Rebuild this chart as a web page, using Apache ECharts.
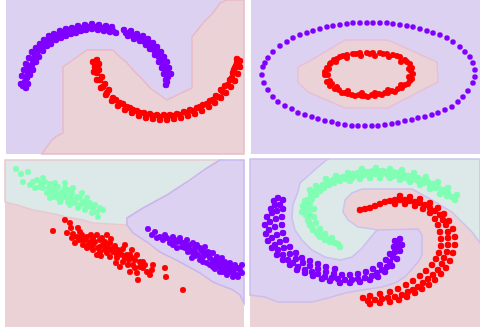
<!DOCTYPE html>
<html>
<head>
<meta charset="utf-8">
<script src="https://cdn.jsdelivr.net/npm/echarts@6/dist/echarts.min.js"></script>
<style>
  html, body { margin: 0; padding: 0; background: #fff; }
  #chart { width: 480px; height: 330px; }
</style>
</head>
<body>
<div id="chart"></div>
<script>
// panel 1 - two moons (units: panel-local, y grows downward)
const moonsPurple = [[17,86],[20,88],[19,82],[21,78],[22,73],[23,68],[26,65],[27,60],[29,55],[31,53],[33,50],[36,47],[39,43],[42,41],[46,38],[49,37],[52,35],[56,33],[59,33],[62,32],[66,31],[69,30],[72,29],[76,28],[79,28],[82,27],[86,26],[89,27],[92,28],[96,28],[99,29],[102,30],[107,31],[110,33],[120,33],[124,34],[127,36],[131,37],[136,39],[139,42],[142,43],[146,47],[148,50],[151,53],[153,57],[156,61],[157,65],[159,68],[161,73],[162,77],[161,82],[160,85],
  [22,84],[24,75],[27,70],[30,62],[33,57],[37,51],[41,46],[45,44],[50,40],[55,38],[60,36],[65,34],[70,33],[75,31],[80,30],[86,29],[92,30],[98,31],[104,32],[122,36],[128,39],[134,41],[140,45],[144,49],[149,55],[153,62],[156,68],[158,74],[160,80],
  [15,84],[16,76],[18,70],[20,64],[23,58],[26,52],[30,48],[34,44],[38,40],[43,36],[48,34],[54,31],[60,29],[66,28],[72,26],[79,25],[86,24],[93,25],[100,26],[106,27],[118,30],[125,31],[131,34],[137,36],[142,39],[147,43],[151,47],[155,52],[158,57],[161,62],[163,68],[165,74]];
const moonsRed = [[91,60],[89,67],[91,73],[94,80],[97,87],[101,93],[107,98],[114,103],[121,107],[127,110],[134,113],[141,115],[147,116],[154,117],[161,117],[167,116],[174,115],[181,113],[187,111],[194,107],[201,104],[207,100],[212,97],[217,92],[222,85],[226,78],[227,73],[229,68],[231,63],[231,59],
  [93,64],[93,70],[96,77],[99,84],[103,90],[110,100],[117,104],[124,108],[131,111],[138,113],[144,114],[151,115],[158,115],[164,115],[171,114],[178,112],[184,110],[191,108],[197,105],[204,101],[210,96],[215,90],[219,86],[224,80],[228,70],[230,66],
  [87,62],[88,72],[91,80],[95,88],[100,95],[106,101],[112,106],[119,110],[126,113],[133,116],[140,118],[147,119],[154,120],[161,120],[168,119],[175,118],[182,116],[189,114],[196,111],[203,107],[209,103],[215,98],[220,93],[225,87],[229,81],[232,74],[234,67],[234,61]];
const moonsRedRegion = [[36,154],[40,148],[46,140],[51,136],[57,133],[57,67],[64,62],[71,57],[81,50],[107,50],[114,57],[121,63],[129,72],[137,80],[144,88],[161,100],[186,88],[186,37],[197,23],[207,13],[214,3],[221,0],[238,0],[238,154]];

// panel 2 - circles
const circlesOuter = [[12,67],[11,75],[13,83],[17,90],[22,97],[27,102],[34,106],[41,109],[47,113],[54,115],[61,117],[67,119],[74,121],[81,122],[87,124],[94,125],[101,126],[107,126],[114,126],[121,126],[127,126],[134,125],[141,124],[147,123],[154,121],[161,120],[167,118],[174,117],[181,115],[187,113],[194,110],[201,107],[207,102],[212,97],[217,91],[222,83],[224,77],[224,70],[222,63],[219,57],[214,52],[209,47],[202,42],[196,38],[189,35],[182,33],[176,31],[169,29],[162,27],[156,26],[149,25],[142,24],[136,23],[129,23],[122,23],[116,23],[109,23],[102,23],[96,24],[89,25],[82,26],[76,27],[69,29],[62,31],[56,33],[49,35],[42,38],[36,42],[29,46],[22,52],[17,58],[14,63]];
const circlesInner = [[74,75],[76,82],[79,86],[84,89],[91,93],[97,94],[104,96],[111,96],[117,97],[124,96],[131,95],[137,93],[144,92],[151,88],[157,84],[161,79],[162,74],[161,68],[159,64],[154,60],[149,57],[142,55],[136,54],[129,53],[122,53],[116,53],[109,53],[102,54],[96,55],[89,57],[83,60],[79,64],[76,68],[74,72],
  [77,75],[79,81],[86,87],[97,91],[111,93],[124,93],[137,90],[150,85],[158,77],[158,69],[150,62],[138,57],[124,56],[110,56],[96,58],[85,62],[78,69],
  [81,84],[88,90],[94,93],[101,95],[108,95],[114,96],[121,95],[128,94],[134,93],[141,91],[147,89],[154,85],[159,81],[160,71],[156,62],[146,56],[132,54],[119,54],[105,54],[92,56],[86,59],[80,63]];
const circlesRedRegion = [[94,40],[137,40],[186,62],[187,82],[137,108],[94,108],[57,92],[47,82],[47,67],[57,62]];

// panel 3 - blobs
const blobsGreen = [[11,9],[23,12],[18,22],[25,25],[32,20],[38,18],[30,28],[38,28],[45,24],[50,23],[53,27],[47,32],[52,33],[57,32],[60,28],[63,30],[67,33],[58,37],[62,38],[67,40],[72,37],[75,38],[78,42],[70,43],[75,45],[82,47],[85,43],[88,48],[92,52],[95,48],[98,50],[93,57],[87,53],[80,50],[73,48],[65,45],[55,42],[48,37],[42,33],[35,27],[45,38],[53,38],[82,38],[77,33],[68,28],[60,23],[50,28],
  [40,22],[44,28],[50,32],[55,35],[60,34],[65,36],[70,40],[80,44],[85,46],[90,45],[63,42],[57,38],[47,30],[36,23],[28,22],[16,14]];
const blobsRed = [[48,71],[60,60],[65,63],[73,68],[62,73],[72,77],[70,83],[77,80],[82,77],[85,82],[88,78],[92,75],[95,80],[102,75],[98,85],[105,83],[108,88],[82,88],[88,90],[95,92],[102,93],[112,95],[115,92],[120,85],[122,95],[127,90],[132,95],[135,102],[128,105],[125,112],[132,113],[138,108],[142,112],[147,110],[148,105],[133,120],[160,108],[161,117],[178,130],[112,98],[105,97],[118,102],[123,105],[95,87],[83,85],[77,75],[92,95],[108,92],[138,102],[127,98],[115,107],[102,87],[88,85],
  [66,68],[68,74],[75,72],[78,85],[80,80],[86,75],[90,82],[93,88],[97,78],[100,82],[104,89],[106,79],[110,86],[113,90],[117,95],[120,98],[124,100],[118,89],[125,95],[130,100],[135,107],[140,105],[145,115],[100,90],[96,96],[85,87],[74,80],[67,78],[111,103],[130,108]];
const blobsPurple = [[143,69],[147,75],[155,77],[158,80],[165,80],[168,77],[172,82],[175,78],[178,83],[182,80],[185,85],[188,83],[192,85],[195,88],[198,92],[202,95],[205,98],[208,102],[212,105],[215,107],[218,108],[222,110],[225,112],[228,113],[232,115],[233,108],[230,105],[225,103],[220,102],[217,98],[212,97],[208,93],[203,92],[198,97],[193,95],[188,93],[183,92],[180,88],[177,87],[172,88],[168,85],[165,83],[195,100],[202,103],[208,107],[215,112],[222,115],[228,117],[233,117],[190,88],[187,98],[200,87],[213,100],[227,108],[237,113],[237,105],
  [150,72],[160,75],[170,80],[176,82],[180,84],[185,90],[190,92],[196,90],[200,93],[205,93],[210,100],[215,103],[220,105],[224,107],[229,110],[235,110],[218,112],[210,109],[205,105],[198,102],[190,96],[183,88],[162,78],[152,78]];
const blobsGreenRegion = [[0,0],[215,0],[202,8],[182,22],[162,35],[138,48],[122,58],[122,65],[88,63],[78,60],[62,57],[45,53],[28,50],[12,45],[0,42]];
const blobsPurpleRegion = [[215,0],[239,0],[239,143],[235,135],[228,130],[208,122],[195,113],[175,102],[155,92],[142,82],[128,73],[122,65],[122,58],[138,48],[162,35],[182,22],[202,8]];

// panel 4 - spirals
const spiralGreen = [[90,88],[85,84],[80,83],[75,81],[70,78],[67,74],[63,71],[60,66],[58,61],[56,56],[55,51],[56,46],[58,41],[61,36],[65,33],[69,29],[73,26],[78,23],[83,21],[88,19],[93,18],[98,17],[103,15],[108,14],[113,13],[118,13],[123,12],[128,12],[133,12],[138,13],[143,13],[148,14],[153,15],[158,17],[163,18],[168,19],[173,21],[178,23],[183,25],[188,28],[193,31],[198,34],[202,38],[205,41],
  [88,85],[78,80],[68,75],[62,68],[59,63],[60,56],[59,50],[60,44],[62,40],[66,36],[70,32],[74,29],[79,26],[84,24],[90,22],[96,20],[102,19],[108,17],[114,16],[120,16],[126,15],[132,15],[138,16],[144,17],[150,18],[156,19],[162,21],[168,22],[174,24],[180,26],[186,29],[192,33],[197,37],
  [52,53],[53,47],[55,42],[60,31],[66,27],[76,20],[86,17],[98,14],[112,10],[126,9],[140,10],[152,11],[164,14],[176,18],[188,23],[198,29],[207,36],
  [100,22],[110,20],[120,19],[130,19],[140,19],[150,21],[160,23],[170,26],[180,30],[190,35],[64,50],[64,58],[66,64],[70,70],[75,75],[82,79]];
const spiralPurple = [[28,39],[33,41],[25,46],[22,54],[20,63],[19,71],[22,79],[25,86],[28,91],[33,96],[38,101],[43,104],[48,108],[55,111],[62,113],[68,115],[75,118],[82,119],[88,120],[95,121],[102,121],[108,120],[115,119],[122,117],[127,114],[132,111],[137,108],[140,103],[143,98],[145,93],[147,88],[148,83],
  [24,42],[21,50],[17,58],[15,66],[16,75],[18,82],[22,89],[27,96],[33,101],[40,106],[47,111],[55,114],[63,117],[72,120],[80,122],[90,124],[100,124],[110,123],[120,121],[128,118],[135,113],[142,107],[147,100],[150,92],[152,86],
  [30,46],[27,52],[26,60],[25,68],[27,76],[30,83],[34,89],[40,95],[46,100],[53,104],[60,107],[68,110],[76,113],[84,115],[92,116],[100,116],[108,115],[116,113],[123,110],[130,106],[136,101],[140,95],[144,88],[145,82],[150,80],
  [33,50],[32,58],[32,66],[33,74],[36,81],[40,88],[46,94],[52,99],[60,102],[68,105],[76,108],[85,110]];
const spiralRed = [[110,51],[115,50],[120,49],[125,47],[130,45],[135,43],[140,42],[145,41],[150,41],[155,41],[160,42],[165,43],[170,44],[175,46],[180,49],[185,52],[190,56],[193,61],[196,66],[198,73],[198,79],[198,86],[197,93],[194,99],[192,105],[188,111],[183,116],[178,120],[173,124],[168,128],[163,131],[158,133],[152,136],[145,138],[138,139],[132,140],[125,141],[118,142],[113,139],
  [150,37],[160,38],[170,40],[180,44],[188,49],[194,55],[199,62],[203,70],[205,78],[205,86],[203,94],[200,102],[196,109],[191,115],[185,121],[179,126],[172,130],[165,134],[157,138],[149,141],[140,143],[130,144],[120,145],
  [145,45],[155,45],[165,47],[173,50],[180,54],[185,60],[188,66],[190,73],[191,80],[191,87],[189,94],[186,100],[182,106],[176,112],[170,117],[163,122],[156,126],[148,130],[140,133],[130,135],[120,137]];
const spiralPurpleRegion = [[0,0],[78,0],[67,9],[57,18],[50,24],[48,33],[43,46],[42,59],[45,71],[52,81],[62,91],[75,98],[90,101],[102,98],[112,89],[120,79],[127,71],[168,70],[172,76],[172,96],[168,103],[163,109],[155,118],[145,124],[132,128],[112,131],[95,134],[78,139],[62,143],[28,143],[15,138],[0,136]];
const spiralGreenRegion = [[78,0],[230,0],[230,84],[222,73],[202,53],[182,41],[162,30],[112,30],[102,34],[95,41],[93,53],[98,61],[108,68],[122,70],[127,71],[120,79],[112,89],[102,98],[90,101],[75,98],[62,91],[52,81],[45,71],[42,59],[43,46],[48,33],[50,24],[57,18],[67,9]];

const PURPLE = '#8000ff', RED = '#ff0000', GREEN = '#80ffb4';
const BG_PURPLE = '#ddd1f1', BG_RED = '#ebd2d7', BG_GREEN = '#dde9e8';

const panels = [
  { left: 6, top: 0, w: 238, h: 154, bg: BG_PURPLE,
    regions: [[moonsRedRegion, BG_RED, '#e8b9c6']],
    points: [[moonsPurple, PURPLE, 6.5], [moonsRed, RED, 6.5]] },
  { left: 251, top: 0, w: 229, h: 154, bg: BG_PURPLE,
    regions: [[circlesRedRegion, BG_RED, '#e6c0d6']],
    points: [[circlesOuter, PURPLE, 5.5], [circlesInner, RED, 6]] },
  { left: 5, top: 160, w: 239, h: 167, bg: BG_RED,
    regions: [[blobsGreenRegion, BG_GREEN, '#e6c9cf'], [blobsPurpleRegion, BG_PURPLE, '#c9b6ee']],
    points: [[blobsGreen, GREEN, 6], [blobsRed, RED, 6], [blobsPurple, PURPLE, 6]] },
  { left: 250, top: 159, w: 230, h: 168, bg: BG_RED,
    regions: [[spiralPurpleRegion, BG_PURPLE, '#cdbcee'], [spiralGreenRegion, BG_GREEN, '#c9c3ee']],
    points: [[spiralGreen, GREEN, 6.5], [spiralPurple, PURPLE, 6.5], [spiralRed, RED, 6.5]] }
];

const chart = echarts.init(document.getElementById('chart'), null, { renderer: 'canvas' });

const grid = [], xAxis = [], yAxis = [], series = [];
panels.forEach((p, i) => {
  grid.push({ left: p.left, top: p.top, width: p.w, height: p.h, show: true,
    backgroundColor: p.bg, borderWidth: 0 });
  xAxis.push({ gridIndex: i, type: 'value', min: 0, max: p.w, show: false });
  yAxis.push({ gridIndex: i, type: 'value', min: 0, max: p.h, inverse: true, show: false });
  p.regions.forEach(([poly, fill, edge]) => {
    series.push({
      type: 'custom', xAxisIndex: i, yAxisIndex: i, z: 1, silent: true,
      data: [0],
      renderItem: (params, api) => ({
        type: 'polygon',
        shape: { points: poly.map(pt => api.coord(pt)) },
        style: { fill: fill, stroke: edge, lineWidth: 1.5 }
      })
    });
  });
  p.points.forEach(([pts, color, size]) => {
    series.push({
      type: 'scatter', xAxisIndex: i, yAxisIndex: i, z: 3, silent: true,
      symbolSize: size, data: pts, itemStyle: { color: color, opacity: 1 }
    });
  });
});

chart.setOption({ animation: false, grid, xAxis, yAxis, series });
</script>
</body>
</html>
